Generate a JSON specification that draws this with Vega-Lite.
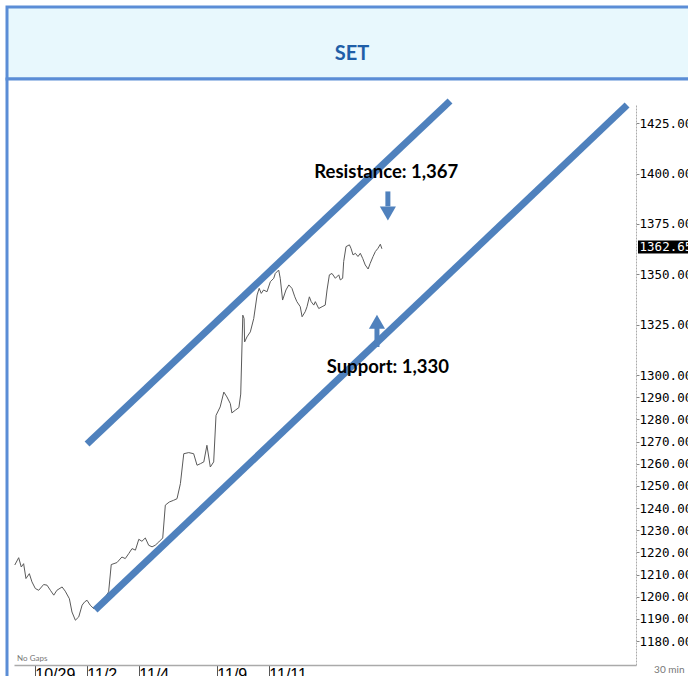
{
  "$schema": "https://vega.github.io/schema/vega-lite/v6.json",
  "padding": {"left": 5, "top": 5, "right": 0, "bottom": 0},
  "background": "white",
  "spacing": 0,
  "bounds": "flush",
  "config": {"font": "Lato"},
  "datasets": {
    "price": [
      {"t": 0.3, "v": 1214.3}, {"t": 1.8, "v": 1217.6}, {"t": 2.8, "v": 1213.4}, {"t": 3.7, "v": 1214.9},
      {"t": 4.6, "v": 1208.2}, {"t": 5.9, "v": 1210.4}, {"t": 6.9, "v": 1206.7}, {"t": 8.2, "v": 1203.7},
      {"t": 9.5, "v": 1202.9}, {"t": 11.4, "v": 1205.5}, {"t": 12.7, "v": 1205.2}, {"t": 14.0, "v": 1202.9},
      {"t": 15.3, "v": 1200.7}, {"t": 16.5, "v": 1202.9}, {"t": 18.5, "v": 1204.4}, {"t": 19.7, "v": 1202.5},
      {"t": 21.3, "v": 1199.1}, {"t": 22.3, "v": 1193.1}, {"t": 23.6, "v": 1189.4}, {"t": 24.9, "v": 1190.9},
      {"t": 26.2, "v": 1196.2}, {"t": 27.2, "v": 1197.7}, {"t": 28.1, "v": 1198.4}, {"t": 29.3, "v": 1196.2},
      {"t": 30.7, "v": 1194.6}, {"t": 32.7, "v": 1197.2}, {"t": 35.4, "v": 1200.4}, {"t": 36.4, "v": 1202.2},
      {"t": 37.4, "v": 1214.5}, {"t": 39.6, "v": 1215.4}, {"t": 41.5, "v": 1217.9}, {"t": 42.8, "v": 1217.2},
      {"t": 44.1, "v": 1219.4}, {"t": 45.4, "v": 1221.7}, {"t": 46.7, "v": 1221.0}, {"t": 48.0, "v": 1225.9},
      {"t": 49.2, "v": 1225.0}, {"t": 50.5, "v": 1226.5}, {"t": 51.8, "v": 1223.2}, {"t": 53.1, "v": 1222.5},
      {"t": 54.3, "v": 1223.2}, {"t": 55.7, "v": 1224.7}, {"t": 57.2, "v": 1226.5}, {"t": 58.2, "v": 1241.3},
      {"t": 59.7, "v": 1242.7}, {"t": 61.4, "v": 1243.5}, {"t": 62.7, "v": 1244.2}, {"t": 64.0, "v": 1251.0},
      {"t": 65.3, "v": 1264.5}, {"t": 67.2, "v": 1265.0}, {"t": 69.1, "v": 1264.5}, {"t": 70.4, "v": 1259.3},
      {"t": 71.7, "v": 1260.0}, {"t": 73.0, "v": 1260.8}, {"t": 74.2, "v": 1268.3}, {"t": 75.5, "v": 1258.5},
      {"t": 76.8, "v": 1260.8}, {"t": 77.7, "v": 1281.8}, {"t": 79.3, "v": 1285.6}, {"t": 80.7, "v": 1292.3},
      {"t": 81.9, "v": 1290.1}, {"t": 83.2, "v": 1287.1}, {"t": 83.8, "v": 1282.9}, {"t": 85.1, "v": 1284.1},
      {"t": 86.5, "v": 1285.3}, {"t": 87.2, "v": 1291.4}, {"t": 88.0, "v": 1329.7}, {"t": 88.5, "v": 1328.0},
      {"t": 88.7, "v": 1316.4}, {"t": 89.6, "v": 1318.9}, {"t": 90.9, "v": 1321.4}, {"t": 92.2, "v": 1328.0},
      {"t": 93.5, "v": 1339.7}, {"t": 94.3, "v": 1343.0}, {"t": 95.1, "v": 1340.5}, {"t": 96.0, "v": 1342.2},
      {"t": 97.3, "v": 1341.3}, {"t": 98.6, "v": 1346.3}, {"t": 99.9, "v": 1348.0}, {"t": 100.5, "v": 1350.4},
      {"t": 101.8, "v": 1352.1}, {"t": 102.4, "v": 1348.0}, {"t": 103.3, "v": 1337.2}, {"t": 104.6, "v": 1342.2},
      {"t": 105.7, "v": 1344.7}, {"t": 106.9, "v": 1343.0}, {"t": 108.0, "v": 1338.8}, {"t": 108.8, "v": 1336.4},
      {"t": 110.1, "v": 1333.9}, {"t": 110.8, "v": 1328.9}, {"t": 112.0, "v": 1331.4}, {"t": 112.7, "v": 1333.9},
      {"t": 113.6, "v": 1338.8}, {"t": 114.3, "v": 1336.4}, {"t": 115.3, "v": 1334.7}, {"t": 115.9, "v": 1336.4},
      {"t": 117.2, "v": 1333.0}, {"t": 118.5, "v": 1333.9}, {"t": 119.7, "v": 1334.7}, {"t": 120.4, "v": 1342.2},
      {"t": 121.3, "v": 1349.7}, {"t": 122.3, "v": 1350.4}, {"t": 123.6, "v": 1348.0}, {"t": 124.9, "v": 1349.7},
      {"t": 125.5, "v": 1347.2}, {"t": 126.4, "v": 1348.0}, {"t": 126.8, "v": 1356.3}, {"t": 127.7, "v": 1363.7},
      {"t": 129.0, "v": 1364.6}, {"t": 129.6, "v": 1362.9}, {"t": 130.4, "v": 1359.6}, {"t": 131.3, "v": 1360.4},
      {"t": 132.3, "v": 1358.8}, {"t": 133.2, "v": 1360.4}, {"t": 134.1, "v": 1357.9}, {"t": 135.1, "v": 1354.6},
      {"t": 136.2, "v": 1352.6}, {"t": 137.0, "v": 1355.4}, {"t": 138.1, "v": 1358.8}, {"t": 139.0, "v": 1361.3},
      {"t": 140.0, "v": 1362.9}, {"t": 140.9, "v": 1364.9}, {"t": 141.5, "v": 1362.65}
    ],
    "channel": [
      {"line": "resistance", "t": 28.1, "v": 1268.9},
      {"line": "resistance", "t": 167.7, "v": 1436},
      {"line": "support", "t": 31.2, "v": 1194},
      {"line": "support", "t": 235.8, "v": 1434}
    ],
    "shafts": [
      {"t": 143.8, "v1": 1391.1, "v2": 1383.7},
      {"t": 139.6, "v1": 1323.4, "v2": 1313.9}
    ],
    "heads": [
      {"t": 143.8, "v": 1380.2, "shape": "triangle-down"},
      {"t": 139.6, "v": 1326.4, "shape": "triangle-up"}
    ],
    "labels": [
      {"t": 143.2, "v": 1400.6, "text": "Resistance: 1,367"},
      {"t": 143.8, "v": 1304.0, "text": "Support: 1,330"}
    ],
    "last": [
      {"t1": 240.0, "t2": 265.0, "v1": 1360.3, "v2": 1366.7, "t": 240.6, "v": 1363.5, "text": "1362.65"}
    ],
    "notes": [
      {"t": 1.2, "v": 1172.0, "text": "No Gaps", "kind": "gaps"},
      {"t": 246.2, "v": 1167.0, "text": "30 min", "kind": "interval"}
    ]
  },
  "vconcat": [
    {
      "width": 690,
      "height": 72,
      "view": {"fill": "#e8f8fd", "stroke": "#5b8dd6", "strokeWidth": 3},
      "data": {"values": [{"title": "SET"}]},
      "mark": {"type": "text", "font": "Lato", "fontWeight": "bold", "fontSize": 20, "color": "#1f5fa8", "dy": 11, "align": "center", "baseline": "middle"},
      "encoding": {"text": {"field": "title"}}
    },
    {
      "width": 690,
      "height": 610,
      "view": {"fill": "white", "stroke": "#5b8dd6", "strokeWidth": 3},
      "encoding": {
        "x": {
          "field": "t", "type": "quantitative",
          "scale": {"domain": [0, 239.23], "range": [7, 629], "nice": false, "zero": false},
          "axis": {
            "orient": "bottom", "offset": -24, "title": null, "grid": false,
            "values": [8, 28, 48, 78, 98],
            "labelExpr": "datum.value == 8 ? '10/29' : datum.value == 28 ? '11/2' : datum.value == 48 ? '11/4' : datum.value == 78 ? '11/9' : '11/11'",
            "labelAlign": "left", "labelBaseline": "top", "labelDx": 2, "labelPadding": -13,
            "labelFont": "Liberation Sans", "labelFontSize": 16, "labelColor": "#000",
            "tickSize": 14, "tickColor": "#555", "tickWidth": 1,
            "domainColor": "#aaaaaa", "domainWidth": 1.5
          }
        },
        "y": {
          "field": "v", "type": "quantitative",
          "scale": {"domain": [1169.2, 1300, 1434], "range": [586, 296, 26], "nice": false, "zero": false},
          "axis": {
            "orient": "right", "offset": -61, "title": null, "grid": false,
            "values": [1180, 1190, 1200, 1210, 1220, 1230, 1240, 1250, 1260, 1270, 1280, 1290, 1300, 1325, 1350, 1375, 1400, 1425],
            "labelExpr": "format(datum.value, '.2f')",
            "labelFont": "DejaVu Sans Mono", "labelFontSize": 12.5, "labelColor": "#000", "labelPadding": 0,
            "tickSize": 3, "tickColor": "#888",
            "domainColor": "#aaaaaa", "domainWidth": 1, "domainDash": [2, 1]
          }
        }
      },
      "layer": [
        {
          "data": {"name": "price"},
          "mark": {"type": "line", "color": "#5a5a5a", "strokeWidth": 1}
        },
        {
          "data": {"name": "channel"},
          "mark": {"type": "line", "color": "#4f81bd", "strokeWidth": 7, "strokeCap": "butt"},
          "encoding": {"detail": {"field": "line"}}
        },
        {
          "data": {"name": "shafts"},
          "mark": {"type": "rule", "color": "#4f81bd", "strokeWidth": 5},
          "encoding": {"y": {"field": "v1", "type": "quantitative"}, "y2": {"field": "v2"}}
        },
        {
          "data": {"name": "heads"},
          "mark": {"type": "point", "filled": true, "color": "#4f81bd", "opacity": 1, "size": 260},
          "encoding": {"shape": {"field": "shape", "type": "nominal", "scale": null, "legend": null}}
        },
        {
          "data": {"name": "labels"},
          "mark": {"type": "text", "font": "Lato", "fontWeight": "bold", "fontSize": 18.5, "color": "#000", "align": "center", "baseline": "middle"},
          "encoding": {"text": {"field": "text"}}
        },
        {
          "data": {"name": "last"},
          "mark": {"type": "rect", "color": "#000"},
          "encoding": {
            "x": {"field": "t1", "type": "quantitative"}, "x2": {"field": "t2"},
            "y": {"field": "v1", "type": "quantitative"}, "y2": {"field": "v2"}
          }
        },
        {
          "data": {"name": "last"},
          "mark": {"type": "text", "font": "DejaVu Sans Mono", "fontSize": 12.5, "color": "#fff", "align": "left", "baseline": "middle"},
          "encoding": {"text": {"field": "text"}}
        },
        {
          "data": {"name": "notes"},
          "mark": {"type": "text", "align": "left", "baseline": "middle", "color": "#777"},
          "encoding": {
            "text": {"field": "text"},
            "size": {"field": "kind", "type": "nominal", "scale": {"domain": ["gaps", "interval"], "range": [8, 10]}, "legend": null},
            "font": {"value": "DejaVu Sans Mono"}
          }
        }
      ]
    }
  ]
}
